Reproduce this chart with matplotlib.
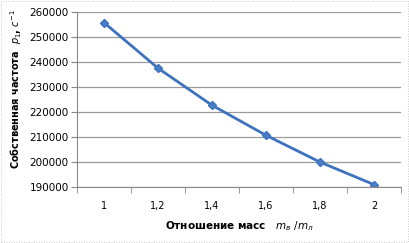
import matplotlib
matplotlib.use("Agg")
import matplotlib.pyplot as plt
from matplotlib.patches import Rectangle

plt.rcParams['font.family'] = ['DejaVu Sans']

# data
ratios = ['1', '1,2', '1,4', '1,6', '1,8', '2']
freq = [255700, 237500, 222700, 210700, 200000, 191000]

fig = plt.figure(figsize=(4.1, 2.43), dpi=100)
ax = fig.add_axes([0.188, 0.230, 0.790, 0.721])

x = range(len(ratios))
ax.plot(x, freq, color='#3d72be', lw=2, marker='D', ms=4.5,
        markerfacecolor='#4a7ec6', markeredgecolor='#3d72be')

ax.set_xlim(-0.5, len(ratios) - 0.5)
ax.set_ylim(190000, 260000)
ax.set_yticks(range(190000, 260001, 10000))
ax.set_xticks(x)
ax.set_xticklabels(ratios)
ax.set_xticks([i - 0.5 for i in range(len(ratios) + 1)], minor=True)
ax.tick_params(axis='x', which='major', length=0, pad=10, labelsize=7)
ax.tick_params(axis='x', which='minor', length=4, color='#888888')
ax.tick_params(axis='y', length=4, color='#888888', labelsize=7.5, pad=2)

ax.grid(axis='y', color='#9a9a9a', lw=0.9)
ax.set_axisbelow(True)
for s in ['top', 'right']:
    ax.spines[s].set_visible(False)
ax.spines['left'].set_color('#888888')
ax.spines['bottom'].set_color('#888888')

ax.set_xlabel('Отношение масс   $m_в\\ /m_л$', fontsize=7.5,
              fontweight='bold', labelpad=6)
ax.set_ylabel('Собственная частота  $p_{1}$, $c^{-1}$', fontsize=7,
              fontweight='bold', labelpad=4)
ax.yaxis.set_label_coords(-0.165, 0.56)

# dotted frame around the chart
fig.patches.append(Rectangle((0.002, 0.004), 0.994, 0.99, transform=fig.transFigure,
                             fill=False, ls=(0, (1, 2)), lw=0.6, color='#bbbbbb'))

plt.savefig('out.png', dpi=100)
